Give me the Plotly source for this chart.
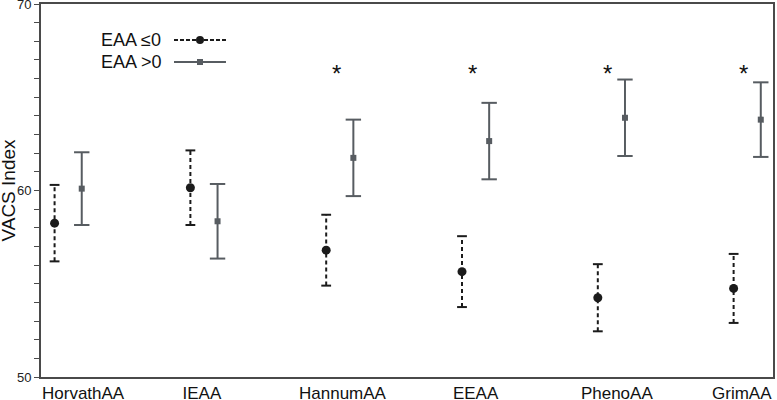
import plotly.graph_objects as go

# data
categories = ["HorvathAA", "IEAA", "HannumAA", "EEAA", "PhenoAA", "GrimAA"]
low_mean = [58.25, 60.15, 56.8, 55.65, 54.25, 54.75]   # EAA <=0
low_err = [2.05, 2.0, 1.9, 1.9, 1.8, 1.85]
high_mean = [60.1, 58.35, 61.75, 62.65, 63.9, 63.8]    # EAA >0
high_err = [1.95, 2.0, 2.05, 2.05, 2.05, 2.0]
significant = [False, False, True, True, True, True]
star_level = 66.5

FONT = "Liberation Sans, Arial, sans-serif"
BLACK = "#1b1b1b"
GREY = "#575c61"
AXIS = "#4a4a4a"
OFFSET = 0.1

x_low = [i - OFFSET for i in range(len(categories))]
x_high = [i + OFFSET for i in range(len(categories))]


def bar_path(xs, means, errs):
    px, py = [], []
    for x, m, e in zip(xs, means, errs):
        px += [x, x, None]
        py += [m - e, m + e, None]
    return px, py


fig = go.Figure()

# EAA <=0 : dashed black bars, round markers
lx, ly = bar_path(x_low, low_mean, low_err)
fig.add_trace(go.Scatter(x=lx, y=ly, mode="lines",
                         line=dict(color=BLACK, width=2, dash="4px,3px"),
                         hoverinfo="skip", showlegend=False))
fig.add_trace(go.Scatter(x=x_low + x_low,
                         y=[m - e for m, e in zip(low_mean, low_err)] + [m + e for m, e in zip(low_mean, low_err)],
                         mode="markers", hoverinfo="skip", showlegend=False,
                         marker=dict(symbol="line-ew", size=7, line=dict(color=BLACK, width=2))))
fig.add_trace(go.Scatter(x=x_low, y=low_mean, mode="markers", name="EAA ≤0",
                         marker=dict(symbol="circle", size=9, color=BLACK), showlegend=False))

# EAA >0 : solid grey bars, square markers
hx, hy = bar_path(x_high, high_mean, high_err)
fig.add_trace(go.Scatter(x=hx, y=hy, mode="lines",
                         line=dict(color=GREY, width=2),
                         hoverinfo="skip", showlegend=False))
fig.add_trace(go.Scatter(x=x_high + x_high,
                         y=[m - e for m, e in zip(high_mean, high_err)] + [m + e for m, e in zip(high_mean, high_err)],
                         mode="markers", hoverinfo="skip", showlegend=False,
                         marker=dict(symbol="line-ew", size=11, line=dict(color=GREY, width=2))))
fig.add_trace(go.Scatter(x=x_high, y=high_mean, mode="markers", name="EAA >0",
                         marker=dict(symbol="square", size=6, color=GREY), showlegend=False))

# significance stars
for i, sig in enumerate(significant):
    if sig:
        fig.add_annotation(x=i - 0.025, y=star_level, text="*", showarrow=False,
                           font=dict(family=FONT, size=24, color="#111"),
                           xanchor="center", yanchor="middle", yshift=-4)

# hand made legend: text first, then the sample
legend_rows = [("EAA ≤0", BLACK, "dash", "circle", 0.9035),
               ("EAA >0", GREY, "solid", "square", 0.8445)]
for label, col, dash, sym, yy in legend_rows:
    fig.add_annotation(x=0.0792, y=yy, xref="paper", yref="paper", text=label,
                       showarrow=False, xanchor="left", yanchor="middle",
                       font=dict(family=FONT, size=18, color="#111"))
    fig.add_shape(type="line", xref="paper", yref="paper", x0=0.1817, x1=0.2527, y0=yy, y1=yy,
                  line=dict(color=col, width=2, dash="4px,2px" if dash == "dash" else "solid"))
    if sym == "circle":
        fig.add_shape(type="circle", xref="paper", yref="paper", xsizemode="pixel", ysizemode="pixel",
                      xanchor=0.2172, yanchor=yy, x0=-4, x1=4, y0=-4, y1=4,
                      fillcolor=col, line=dict(width=0))
    else:
        fig.add_shape(type="rect", xref="paper", yref="paper", xsizemode="pixel", ysizemode="pixel",
                      xanchor=0.2172, yanchor=yy, x0=-3, x1=3, y0=-3, y1=3,
                      fillcolor=col, line=dict(width=0))

# y axis title, placed by hand so the plot area does not move
fig.add_annotation(x=-0.045, y=0.5, xref="paper", yref="paper", text="VACS Index",
                   textangle=-90, showarrow=False, xanchor="center", yanchor="middle",
                   font=dict(family=FONT, size=19, color="#111"))

label_pos = [0.11, 0.985, 2.02, 3.0, 4.04, 4.96]

fig.update_layout(
    width=777, height=400,
    margin=dict(l=41, r=4, t=4, b=23),
    paper_bgcolor="white", plot_bgcolor="white",
    font=dict(family=FONT, color="#222"),
    xaxis=dict(range=[-0.2, 5.19], tickvals=label_pos, ticktext=categories,
               showgrid=False, zeroline=False, ticks="", tickfont=dict(size=17, color="#111"),
               automargin=False,
               showline=True, linecolor=AXIS, linewidth=2, mirror=True, fixedrange=True),
    yaxis=dict(range=[50, 70], tickvals=[50, 60, 70], showgrid=False, zeroline=False,
               ticks="outside", ticklen=5, tickwidth=1, tickcolor=AXIS,
               tickfont=dict(size=13, color="#222"), automargin=False,
               ticklabeloverflow="allow",
               minor=dict(dtick=1, ticks="outside", ticklen=5, tickwidth=1, tickcolor=AXIS, showgrid=False),
               showline=True, linecolor=AXIS, linewidth=2, mirror=True,
               fixedrange=True),
)

# the page's default body margin would shift the figure by 8px
fig.write_html("out.html", config={"displayModeBar": False},
               post_script="document.body.style.margin='0';")
